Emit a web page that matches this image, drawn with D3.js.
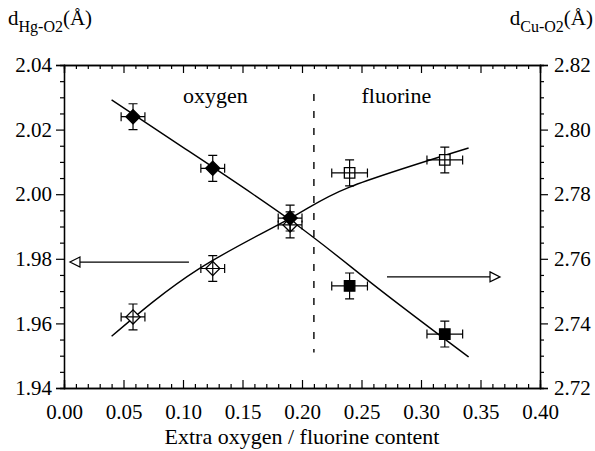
<!DOCTYPE html>
<html>
<head>
<meta charset="utf-8">
<script src="https://cdn.jsdelivr.net/npm/d3@7"></script>
<style>
  body { margin: 0; background: #fff; }
  svg text { font-family: "Liberation Serif", "Nimbus Roman", "Times New Roman", Times, "DejaVu Serif", serif; fill: #000; }
</style>
</head>
<body>
<div id="vis-container"></div>
<script>
// values
const xOxy = [0.058, 0.125, 0.19];
const xFluo = [0.24, 0.32];
const hgOxy = [1.962, 1.977, 1.9905];    // open diamonds, left axis
const hgFluo = [2.0066, 2.0106];         // open squares, left axis
const cuOxy = [2.804, 2.788, 2.7726];    // filled diamonds, right axis
const cuFluo = [2.7516, 2.7367];         // filled squares, right axis
const xErrOxy = [0.01, 0.01, 0.01];
const xErrFluo = [0.015, 0.015];
const yErr = 0.004;

// fitted curves
const hgFitX = [0.04, 0.113, 0.19, 0.24, 0.34];
const hgFitY = [1.956, 1.9768, 1.9925, 2.0022, 2.0143];
const cuFitX = [0.04, 0.10, 0.19, 0.26, 0.34];
const cuFitY = [2.8092, 2.7945, 2.772, 2.752, 2.7296];

// ticks
const xTicks = [0, 0.05, 0.10, 0.15, 0.20, 0.25, 0.30, 0.35, 0.40];
const hgTicks = [1.94, 1.96, 1.98, 2.00, 2.02, 2.04];
const cuTicks = [2.72, 2.74, 2.76, 2.78, 2.80, 2.82];

// separation line and arrows (data units, left axis for y)
const splitX = 0.21, splitY = [1.951, 2.031];
const arrowLeft = { from: 0.105, to: 0.005, y: 1.979 };
const arrowRight = { from: 0.2714, to: 0.3664, y: 1.9744 };

const serif = '"Liberation Serif", "Nimbus Roman", "Times New Roman", Times, "DejaVu Serif", serif';

const margin = { top: 65, right: 55, bottom: 63, left: 64 };
const width = 595 - margin.left - margin.right;
const height = 451 - margin.top - margin.bottom;

const svg = d3.select("#vis-container")
  .append("svg")
    .attr("width", 595)
    .attr("height", 451)
    .attr("font-family", serif)
  .append("g")
    .attr("transform", `translate(${margin.left}, ${margin.top})`);

const x = d3.scaleLinear().domain([0, 0.4]).range([0, width]);
const yL = d3.scaleLinear().domain([1.94, 2.04]).range([height, 0]);
const yR = d3.scaleLinear().domain([2.72, 2.82]).range([height, 0]);

const fmt = d3.format(".2f");
const xMinor = d3.range(0, 41).map(i => i / 100).filter(v => Math.round(v * 100) % 5 !== 0);
const yMinorL = d3.range(0, 21).map(i => 1.94 + i * 0.005).filter((v, i) => i % 4 !== 0);
const yMinorR = d3.range(0, 21).map(i => 2.72 + i * 0.005).filter((v, i) => i % 4 !== 0);

function styleAxis(g) {
  g.attr("font-family", serif).attr("font-size", 21);
  g.select(".domain").attr("stroke", "#000").attr("stroke-width", 1.3);
  g.selectAll(".tick line").attr("stroke", "#000").attr("stroke-width", 1.2);
  g.selectAll(".tick text").attr("font-family", serif).attr("font-size", 21);
}

// bottom axis, ticks point inside
svg.append("g")
  .attr("transform", `translate(0, ${height})`)
  .call(d3.axisBottom(x).tickValues(xTicks).tickSize(-8).tickPadding(16).tickFormat(fmt))
  .call(styleAxis);
svg.append("g")
  .attr("transform", `translate(0, ${height})`)
  .call(d3.axisBottom(x).tickValues(xMinor).tickSize(-4).tickFormat(""))
  .call(styleAxis);

// top axis
svg.append("g")
  .call(d3.axisTop(x).tickValues(xTicks).tickSize(-8).tickFormat(""))
  .call(styleAxis);
svg.append("g")
  .call(d3.axisTop(x).tickValues(xMinor).tickSize(-4).tickFormat(""))
  .call(styleAxis);

// left axis, ticks point outside
svg.append("g")
  .call(d3.axisLeft(yL).tickValues(hgTicks).tickSize(8).tickPadding(4).tickFormat(fmt))
  .call(styleAxis);
svg.append("g")
  .call(d3.axisLeft(yL).tickValues(yMinorL).tickSize(4).tickFormat(""))
  .call(styleAxis);

// right axis
svg.append("g")
  .attr("transform", `translate(${width}, 0)`)
  .call(d3.axisRight(yR).tickValues(cuTicks).tickSize(8).tickPadding(6).tickFormat(fmt))
  .call(styleAxis);
svg.append("g")
  .attr("transform", `translate(${width}, 0)`)
  .call(d3.axisRight(yR).tickValues(yMinorR).tickSize(4).tickFormat(""))
  .call(styleAxis);

// dashed separation
svg.append("line")
  .attr("x1", x(splitX)).attr("x2", x(splitX))
  .attr("y1", yL(splitY[1])).attr("y2", yL(splitY[0]))
  .attr("stroke", "#000").attr("stroke-width", 1.4)
  .attr("stroke-dasharray", "7,10");

// fit curves
const hgLine = d3.line().x(d => x(d[0])).y(d => yL(d[1])).curve(d3.curveNatural);
const cuLine = d3.line().x(d => x(d[0])).y(d => yR(d[1])).curve(d3.curveNatural);
svg.append("path")
  .attr("d", hgLine(hgFitX.map((v, i) => [v, hgFitY[i]])))
  .attr("fill", "none").attr("stroke", "#000").attr("stroke-width", 1.4);
svg.append("path")
  .attr("d", cuLine(cuFitX.map((v, i) => [v, cuFitY[i]])))
  .attr("fill", "none").attr("stroke", "#000").attr("stroke-width", 1.4);

// points
const points = [];
xOxy.forEach((v, i) => points.push({ x: v, px: yL(hgOxy[i]), ex: xErrOxy[i], shape: "diamond", fill: "#fff" }));
xFluo.forEach((v, i) => points.push({ x: v, px: yL(hgFluo[i]), ex: xErrFluo[i], shape: "square", fill: "#fff" }));
xOxy.forEach((v, i) => points.push({ x: v, px: yR(cuOxy[i]), ex: xErrOxy[i], shape: "diamond", fill: "#000" }));
xFluo.forEach((v, i) => points.push({ x: v, px: yR(cuFluo[i]), ex: xErrFluo[i], shape: "square", fill: "#000" }));

const diamond = d3.symbol().type(d3.symbolSquare).size(100);
const square = d3.symbol().type(d3.symbolSquare).size(110);

svg.selectAll(".marker")
  .data(points)
  .enter()
  .append("path")
    .attr("class", "marker")
    .attr("d", d => d.shape === "diamond" ? diamond() : square())
    .attr("transform", d => `translate(${x(d.x)}, ${d.px})` + (d.shape === "diamond" ? " rotate(45)" : ""))
    .attr("fill", d => d.fill)
    .attr("stroke", "#000")
    .attr("stroke-width", 1.3);

// error bars
const pxErr = Math.abs(yL(0) - yL(yErr));
const cap = 4.5;
const eb = svg.selectAll(".err")
  .data(points)
  .enter()
  .append("g")
    .attr("class", "err")
    .attr("transform", d => `translate(${x(d.x)}, ${d.px})`)
    .attr("stroke", "#000")
    .attr("stroke-width", 1.2);
eb.append("path")
  .attr("fill", "none")
  .attr("d", d => {
    const hx = x(d.ex) - x(0);
    return `M${-hx},0H${hx}M${-hx},${-cap}V${cap}M${hx},${-cap}V${cap}` +
           `M0,${-pxErr}V${pxErr}M${-cap},${-pxErr}H${cap}M${-cap},${pxErr}H${cap}`;
  });

// arrows
function arrow(a) {
  const dir = a.to > a.from ? 1 : -1;
  const tip = x(a.to), yy = yL(a.y);
  const base = tip - dir * 10;
  svg.append("line")
    .attr("x1", x(a.from)).attr("x2", base)
    .attr("y1", yy).attr("y2", yy)
    .attr("stroke", "#000").attr("stroke-width", 1.2);
  svg.append("path")
    .attr("d", `M${base},${yy - 5}L${tip},${yy}L${base},${yy + 5}Z`)
    .attr("fill", "#fff").attr("stroke", "#000").attr("stroke-width", 1.2);
}
arrow(arrowLeft);
arrow(arrowRight);

// region labels
svg.append("text")
  .attr("x", x(0.1)).attr("y", 38)
  .attr("font-size", 22)
  .text("oxygen");
svg.append("text")
  .attr("x", x(0.25)).attr("y", 38)
  .attr("font-size", 22)
  .text("fluorine");

// axis titles
svg.append("text")
  .attr("x", width / 2).attr("y", height + 56)
  .attr("text-anchor", "middle")
  .attr("font-size", 22)
  .text("Extra oxygen / fluorine content");

const tL = svg.append("text")
  .attr("x", -56).attr("y", -40)
  .attr("font-size", 21);
tL.append("tspan").text("d");
tL.append("tspan").attr("dy", 7).attr("font-size", 16).text("Hg-O2");
tL.append("tspan").attr("dy", -7).text("(Å)");

const tR = svg.append("text")
  .attr("x", width + 53).attr("y", -40)
  .attr("text-anchor", "end")
  .attr("font-size", 21);
tR.append("tspan").text("d");
tR.append("tspan").attr("dy", 7).attr("font-size", 16).text("Cu-O2");
tR.append("tspan").attr("dy", -7).text("(Å)");
</script>
</body>
</html>
